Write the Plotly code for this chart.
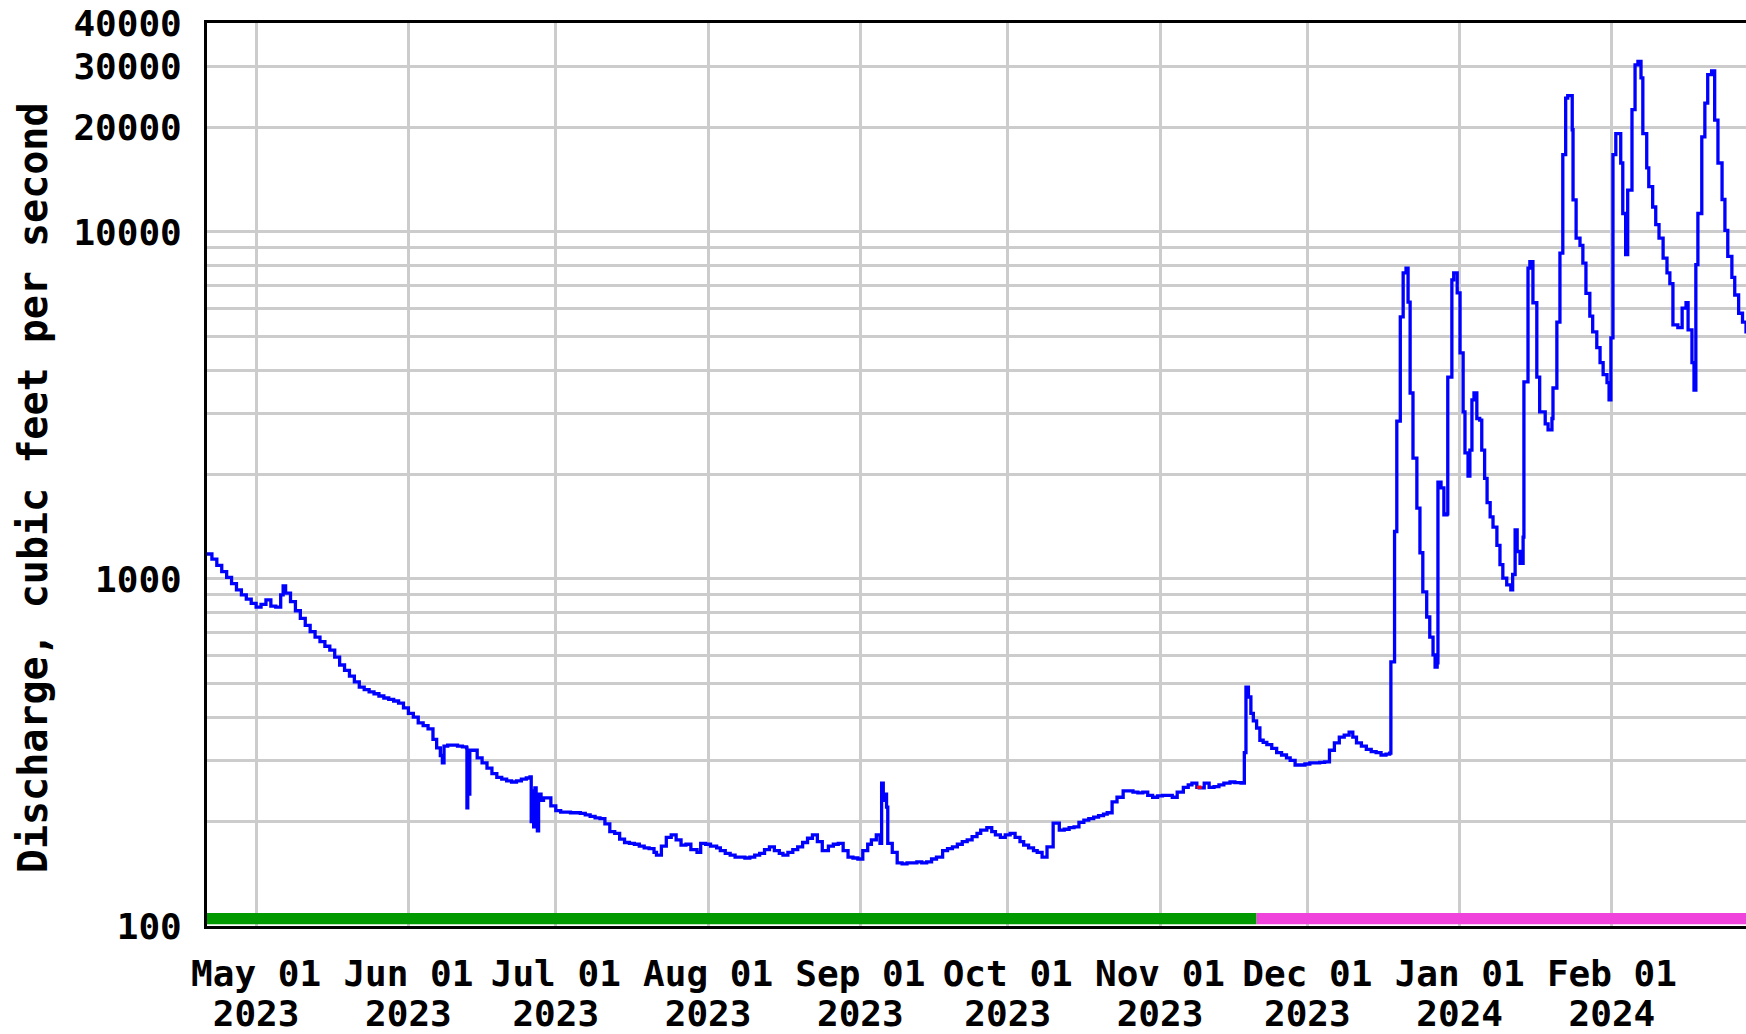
import math
import plotly.graph_objects as go

# ---------------- data ----------------
dates = [
    "2023-04-21 00:00", "2023-04-22 00:00", "2023-04-23 00:00", "2023-04-24 00:00", "2023-04-25 00:00",
    "2023-04-26 00:00", "2023-04-27 00:00", "2023-04-28 00:00", "2023-04-29 00:00", "2023-04-30 00:00",
    "2023-05-01 00:00", "2023-05-02 00:00", "2023-05-03 00:00", "2023-05-04 00:00", "2023-05-05 00:00",
    "2023-05-06 00:00", "2023-05-06 12:00", "2023-05-07 00:00", "2023-05-08 00:00", "2023-05-09 00:00",
    "2023-05-10 00:00", "2023-05-11 00:00", "2023-05-12 00:00", "2023-05-13 00:00", "2023-05-14 00:00",
    "2023-05-15 00:00", "2023-05-16 00:00", "2023-05-17 00:00", "2023-05-18 00:00", "2023-05-19 00:00",
    "2023-05-20 00:00", "2023-05-21 00:00", "2023-05-22 00:00", "2023-05-23 00:00", "2023-05-24 00:00",
    "2023-05-25 00:00", "2023-05-26 00:00", "2023-05-27 00:00", "2023-05-28 00:00", "2023-05-29 00:00",
    "2023-05-30 00:00", "2023-05-31 00:00",
    "2023-06-01 00:00", "2023-06-02 00:00", "2023-06-03 00:00", "2023-06-04 00:00", "2023-06-05 00:00",
    "2023-06-06 00:00", "2023-06-06 18:00", "2023-06-07 12:00", "2023-06-07 22:00", "2023-06-08 06:00",
    "2023-06-09 00:00", "2023-06-10 00:00", "2023-06-11 00:00", "2023-06-12 00:00", "2023-06-12 20:00",
    "2023-06-12 22:00", "2023-06-13 02:00", "2023-06-13 06:00", "2023-06-13 12:00", "2023-06-14 00:00",
    "2023-06-15 00:00", "2023-06-16 00:00", "2023-06-17 00:00", "2023-06-18 00:00", "2023-06-19 00:00",
    "2023-06-20 00:00", "2023-06-21 00:00", "2023-06-22 00:00", "2023-06-23 00:00", "2023-06-24 00:00",
    "2023-06-25 00:00", "2023-06-25 18:00", "2023-06-26 00:00", "2023-06-26 06:00", "2023-06-26 12:00",
    "2023-06-26 18:00", "2023-06-27 00:00", "2023-06-27 06:00", "2023-06-27 12:00", "2023-06-28 00:00",
    "2023-06-28 12:00", "2023-06-29 00:00", "2023-06-30 00:00",
    "2023-07-01 00:00", "2023-07-02 00:00", "2023-07-03 00:00", "2023-07-04 00:00", "2023-07-05 00:00",
    "2023-07-06 00:00", "2023-07-07 00:00", "2023-07-08 00:00", "2023-07-09 00:00", "2023-07-10 00:00",
    "2023-07-11 00:00", "2023-07-12 00:00", "2023-07-13 00:00", "2023-07-14 00:00", "2023-07-15 00:00",
    "2023-07-16 00:00", "2023-07-17 00:00", "2023-07-18 00:00", "2023-07-19 00:00", "2023-07-20 00:00",
    "2023-07-21 00:00", "2023-07-21 12:00", "2023-07-22 12:00", "2023-07-23 12:00", "2023-07-24 12:00",
    "2023-07-25 12:00", "2023-07-26 12:00", "2023-07-27 12:00", "2023-07-28 12:00", "2023-07-29 18:00",
    "2023-07-30 12:00", "2023-07-31 12:00",
    "2023-08-01 12:00", "2023-08-02 18:00", "2023-08-03 12:00", "2023-08-04 12:00", "2023-08-05 12:00",
    "2023-08-06 12:00", "2023-08-07 12:00", "2023-08-08 12:00", "2023-08-09 12:00", "2023-08-10 12:00",
    "2023-08-11 12:00", "2023-08-12 12:00", "2023-08-13 12:00", "2023-08-14 12:00", "2023-08-15 12:00",
    "2023-08-16 06:00", "2023-08-17 06:00", "2023-08-18 06:00", "2023-08-19 06:00", "2023-08-20 06:00",
    "2023-08-21 06:00", "2023-08-22 06:00", "2023-08-23 06:00", "2023-08-24 06:00", "2023-08-25 12:00",
    "2023-08-26 12:00", "2023-08-27 12:00", "2023-08-28 12:00", "2023-08-29 12:00", "2023-08-30 12:00",
    "2023-08-31 12:00",
    "2023-09-01 12:00", "2023-09-02 12:00", "2023-09-03 06:00", "2023-09-04 06:00", "2023-09-05 00:00",
    "2023-09-05 08:00", "2023-09-05 16:00", "2023-09-06 00:00", "2023-09-06 08:00", "2023-09-06 14:00",
    "2023-09-07 12:00", "2023-09-08 12:00", "2023-09-09 12:00", "2023-09-10 12:00", "2023-09-11 12:00",
    "2023-09-12 12:00", "2023-09-13 12:00", "2023-09-14 12:00", "2023-09-15 12:00", "2023-09-16 12:00",
    "2023-09-17 18:00", "2023-09-18 18:00", "2023-09-19 18:00", "2023-09-20 18:00", "2023-09-21 18:00",
    "2023-09-22 18:00", "2023-09-23 18:00", "2023-09-24 18:00", "2023-09-25 12:00", "2023-09-26 18:00",
    "2023-09-27 18:00", "2023-09-28 12:00", "2023-09-29 12:00", "2023-09-30 12:00",
    "2023-10-01 12:00", "2023-10-02 12:00", "2023-10-03 12:00", "2023-10-04 06:00", "2023-10-05 06:00",
    "2023-10-06 06:00", "2023-10-07 00:00", "2023-10-08 00:00", "2023-10-09 00:00", "2023-10-10 06:00",
    "2023-10-11 12:00", "2023-10-12 12:00", "2023-10-13 12:00", "2023-10-14 12:00", "2023-10-15 12:00",
    "2023-10-16 12:00", "2023-10-17 12:00", "2023-10-18 12:00", "2023-10-19 12:00", "2023-10-20 12:00",
    "2023-10-21 06:00", "2023-10-22 06:00", "2023-10-23 06:00", "2023-10-24 12:00", "2023-10-25 12:00",
    "2023-10-26 12:00", "2023-10-27 12:00", "2023-10-28 12:00", "2023-10-29 12:00", "2023-10-30 12:00",
    "2023-10-31 12:00",
    "2023-11-01 12:00", "2023-11-02 12:00", "2023-11-03 12:00", "2023-11-04 12:00", "2023-11-05 18:00",
    "2023-11-06 18:00", "2023-11-07 12:00", "2023-11-08 12:00", "2023-11-09 00:00", "2023-11-10 00:00",
    "2023-11-11 00:00", "2023-11-12 00:00", "2023-11-13 00:00", "2023-11-14 00:00", "2023-11-15 06:00",
    "2023-11-16 06:00", "2023-11-17 12:00", "2023-11-18 00:00", "2023-11-18 04:00", "2023-11-18 12:00",
    "2023-11-19 00:00", "2023-11-19 12:00", "2023-11-20 00:00", "2023-11-20 16:00", "2023-11-21 08:00",
    "2023-11-22 00:00", "2023-11-22 18:00", "2023-11-23 18:00", "2023-11-24 18:00", "2023-11-25 18:00",
    "2023-11-26 18:00", "2023-11-27 12:00", "2023-11-28 12:00", "2023-11-29 12:00", "2023-11-30 12:00",
    "2023-12-01 12:00", "2023-12-02 12:00", "2023-12-03 12:00", "2023-12-04 12:00", "2023-12-05 12:00",
    "2023-12-06 12:00", "2023-12-07 12:00", "2023-12-08 12:00", "2023-12-09 12:00", "2023-12-10 06:00",
    "2023-12-11 00:00", "2023-12-12 00:00", "2023-12-13 00:00", "2023-12-14 00:00", "2023-12-15 00:00",
    "2023-12-16 00:00", "2023-12-17 00:00", "2023-12-17 18:00", "2023-12-18 00:00", "2023-12-18 18:00",
    "2023-12-19 05:00", "2023-12-19 22:00", "2023-12-20 12:00", "2023-12-21 02:00", "2023-12-21 12:00",
    "2023-12-21 22:00", "2023-12-22 12:00", "2023-12-23 07:00", "2023-12-23 22:00", "2023-12-24 12:00",
    "2023-12-25 07:00", "2023-12-25 22:00", "2023-12-26 14:00", "2023-12-27 00:00", "2023-12-27 10:00",
    "2023-12-27 14:00", "2023-12-28 05:00", "2023-12-28 19:00", "2023-12-29 10:00", "2023-12-29 14:00",
    "2023-12-30 10:00", "2023-12-30 19:00", "2023-12-31 12:00",
    "2024-01-01 02:00", "2024-01-01 17:00", "2024-01-02 02:00", "2024-01-02 17:00", "2024-01-03 02:00",
    "2024-01-03 12:00", "2024-01-03 22:00", "2024-01-04 12:00", "2024-01-05 02:00", "2024-01-05 12:00",
    "2024-01-06 02:00", "2024-01-06 14:00", "2024-01-07 05:00", "2024-01-07 19:00", "2024-01-08 14:00",
    "2024-01-09 05:00", "2024-01-09 19:00", "2024-01-10 14:00", "2024-01-11 10:00", "2024-01-11 19:00",
    "2024-01-12 07:00", "2024-01-12 17:00", "2024-01-13 07:00", "2024-01-13 22:00", "2024-01-14 02:00",
    "2024-01-14 22:00", "2024-01-15 07:00", "2024-01-15 22:00", "2024-01-16 17:00", "2024-01-17 07:00",
    "2024-01-18 10:00", "2024-01-19 00:00", "2024-01-19 19:00", "2024-01-20 00:00", "2024-01-20 19:00",
    "2024-01-21 10:00", "2024-01-22 00:00", "2024-01-22 14:00", "2024-01-23 00:00", "2024-01-23 22:00",
    "2024-01-24 02:00", "2024-01-24 17:00", "2024-01-25 12:00", "2024-01-26 02:00", "2024-01-26 17:00",
    "2024-01-27 12:00", "2024-01-28 02:00", "2024-01-28 22:00", "2024-01-29 14:00", "2024-01-30 05:00",
    "2024-01-31 00:00", "2024-01-31 10:00", "2024-01-31 19:00",
    "2024-02-01 05:00", "2024-02-01 19:00", "2024-02-02 10:00", "2024-02-02 19:00", "2024-02-03 05:00",
    "2024-02-03 19:00", "2024-02-04 05:00", "2024-02-05 02:00", "2024-02-05 17:00", "2024-02-06 07:00",
    "2024-02-06 22:00", "2024-02-07 07:00", "2024-02-08 02:00", "2024-02-08 12:00", "2024-02-09 07:00",
    "2024-02-09 22:00", "2024-02-10 14:00", "2024-02-11 10:00", "2024-02-12 05:00", "2024-02-12 19:00",
    "2024-02-13 10:00", "2024-02-14 10:00", "2024-02-15 07:00", "2024-02-16 02:00", "2024-02-16 12:00",
    "2024-02-17 07:00", "2024-02-17 17:00", "2024-02-18 02:00", "2024-02-18 12:00", "2024-02-19 07:00",
    "2024-02-19 22:00", "2024-02-20 12:00", "2024-02-21 07:00", "2024-02-21 22:00", "2024-02-22 14:00",
    "2024-02-23 10:00", "2024-02-24 00:00", "2024-02-24 14:00", "2024-02-25 10:00", "2024-02-26 00:00",
    "2024-02-26 19:00", "2024-02-27 14:00", "2024-02-28 07:00",
]

cfs = [
    1180, 1140, 1095, 1050, 1010, 970, 930, 900, 875, 850,
    830, 845, 870, 835, 830, 900, 955, 910, 860, 810,
    770, 735, 705, 680, 660, 640, 624, 595, 565, 545,
    525, 505, 488, 480, 473, 467, 460, 454, 450, 445,
    439, 425,
    410, 400, 385, 378, 370, 345, 326, 310, 295, 330,
    332, 332, 330, 328, 326, 219, 270, 240, 321, 321,
    305, 295, 285, 275, 268, 265, 262, 260, 262, 265,
    267, 269, 200, 245, 193, 250, 205, 188, 240, 230,
    234, 234, 222,
    215, 213, 213, 212, 212, 211, 209, 207, 205, 204,
    197, 187, 185, 178, 174, 173, 172, 170, 168, 167,
    163, 160, 170, 180, 183, 177, 171, 172, 166, 163,
    173, 172,
    170, 168, 165, 162, 160, 158, 158, 157, 158, 160,
    162, 166, 169, 165, 162, 160, 163, 166, 169, 174,
    179, 183, 175, 165, 170, 172, 173, 165, 158, 157,
    156,
    165, 172, 177, 183, 173, 258, 230, 240, 220, 173,
    163, 152, 151, 152, 152, 153, 152, 153, 156, 158,
    165, 167, 169, 172, 175, 177, 181, 185, 189, 192,
    187, 183, 180, 183,
    185, 180, 175, 171, 168, 165, 163, 158, 169, 198,
    189, 190, 192, 193, 199, 202, 204, 206, 208, 210,
    212, 228, 235, 245, 245, 243, 242, 243, 238, 235,
    237,
    238, 238, 235, 243, 251, 255, 258, 251, 250, 258,
    251, 252, 255, 258, 260, 259, 258, 258, 316, 488,
    457, 410, 390, 372, 343, 338, 333, 325, 316, 311,
    305, 300, 291, 291, 293,
    295, 295, 296, 297, 321, 337, 350, 355, 362, 350,
    337, 330, 323, 318, 316, 311, 313, 315, 577, 1370,
    2850, 5690, 7620, 7870, 6280, 3435, 2230, 1600, 1190, 918,
    777, 680, 604, 557, 573, 1900, 1830, 1530, 1540, 3815,
    7280, 7620, 6670,
    4480, 3030, 2310, 1980, 2350, 3280, 3435, 2900, 2870, 2350,
    1950, 1660, 1510, 1410, 1250, 1100, 1006, 961, 930, 1030,
    1385, 1200, 1110, 1320, 3700, 7870, 8210, 6250, 3815, 3030,
    2800, 2690, 2900, 3550, 5500, 8690, 16700, 24300, 24700, 19700,
    12370, 9600, 9150, 8130, 6650, 5720, 5150, 4640, 4200, 3880,
    3680, 3280, 4950,
    16700, 19200, 19200, 15800, 11300, 8600, 13200, 22500, 30300, 31000,
    27800, 19200, 15300, 13500, 11800, 10500, 9600, 8400, 7620, 7100,
    5400, 5300, 6030, 6250, 5220, 4200, 3500, 8050, 11300, 18800,
    23500, 28400, 29100, 21000, 15800, 12400, 10100, 8500, 7400, 6580,
    5830, 5500, 5100,
]

# short span with a different data qualifier (drawn in red)
flag_dates = ["2023-11-08 12:00", "2023-11-09 12:00"]
flag_cfs = [251, 251]

# data-approval periods shown along the bottom of the plot
approval_labels = ["Approved", "Provisional"]
approval_start = ["2023-04-20 00:00", "2023-11-20 16:00"]
approval_end = ["2023-11-20 16:00", "2024-02-29 00:00"]

x_tick_vals = ["2023-05-01", "2023-06-01", "2023-07-01", "2023-08-01", "2023-09-01",
               "2023-10-01", "2023-11-01", "2023-12-01", "2024-01-01", "2024-02-01"]
x_tick_months = ["May 01", "Jun 01", "Jul 01", "Aug 01", "Sep 01",
                 "Oct 01", "Nov 01", "Dec 01", "Jan 01", "Feb 01"]
x_tick_years = ["2023", "2023", "2023", "2023", "2023",
                "2023", "2023", "2023", "2024", "2024"]

y_tick_vals = [100, 200, 300, 400, 500, 600, 700, 800, 900,
               1000, 2000, 3000, 4000, 5000, 6000, 7000, 8000, 9000,
               10000, 20000, 30000, 40000]
y_tick_text = ["100", "", "", "", "", "", "", "", "",
               "1000", "", "", "", "", "", "", "", "",
               "10000", "20000", "30000", "40000"]

y_title = "Discharge, cubic feet per second"

# ---------------- styling ----------------
FONT = "DejaVu Sans Mono"
approval_colors = {"Approved": "#009900", "Provisional": "#f043dc"}
tick_font = dict(family=FONT, size=36, weight="bold", color="black")

fig = go.Figure()
fig.add_trace(go.Scatter(
    x=dates, y=cfs, mode="lines", line=dict(color="#0000ff", width=3.3, shape="hv"),
    showlegend=False, hoverinfo="x+y"))
fig.add_trace(go.Scatter(
    x=flag_dates, y=flag_cfs, mode="lines", line=dict(color="#ff0000", width=3.3, shape="hv"),
    showlegend=False, hoverinfo="x+y"))
# carrier for the second row of date labels (draws nothing itself)
fig.add_trace(go.Scatter(
    x=dates[:1], y=cfs[:1], xaxis="x2", mode="lines", line=dict(width=0),
    showlegend=False, hoverinfo="skip"))

for lab, s, e in zip(approval_labels, approval_start, approval_end):
    fig.add_shape(type="rect", xref="x", yref="paper", x0=s, x1=e, y0=0.002, y1=0.0145,
                  fillcolor=approval_colors[lab], line=dict(width=0), layer="above")

# vertical axis title, placed as in the reference
fig.add_annotation(text=y_title, xref="paper", yref="paper",
                   x=-0.113, y=0.485, xanchor="center", yanchor="middle",
                   textangle=-90, showarrow=False,
                   font=dict(family=FONT, size=40, weight="bold", color="black"))

x_range = ["2023-04-21 00:00", "2024-02-28 07:00"]

fig.update_layout(
    width=1746, height=1034,
    margin=dict(l=207, r=0, t=23, b=108, pad=0),
    paper_bgcolor="white", plot_bgcolor="white",
    font=dict(family=FONT, color="black"),
    xaxis=dict(
        type="date", range=x_range,
        tickmode="array", tickvals=x_tick_vals, ticktext=x_tick_months,
        tickfont=tick_font, ticks="", ticklabelstandoff=14,
        showgrid=True, gridcolor="#cccccc", gridwidth=3,
        showline=True, linecolor="black", linewidth=3, mirror=True,
        zeroline=False, automargin=False,
    ),
    xaxis2=dict(
        type="date", range=x_range, overlaying="x", anchor="y", side="bottom",
        tickmode="array", tickvals=x_tick_vals, ticktext=x_tick_years,
        tickfont=tick_font, ticks="", ticklabelstandoff=63,
        showgrid=False, showline=False, zeroline=False, automargin=False,
    ),
    yaxis=dict(
        type="log", range=[2, math.log10(40000)],
        tickmode="array", tickvals=y_tick_vals, ticktext=y_tick_text,
        tickfont=tick_font, ticks="", ticklabelstandoff=15,
        showgrid=True, gridcolor="#cccccc", gridwidth=3,
        showline=True, linecolor="black", linewidth=3, mirror=False,
        zeroline=False, automargin=False,
    ),
)

fig.write_html(
    "out.html",
    config={"displayModeBar": False},
    post_script="document.body.style.margin='0';document.body.style.overflow='hidden';",
)
